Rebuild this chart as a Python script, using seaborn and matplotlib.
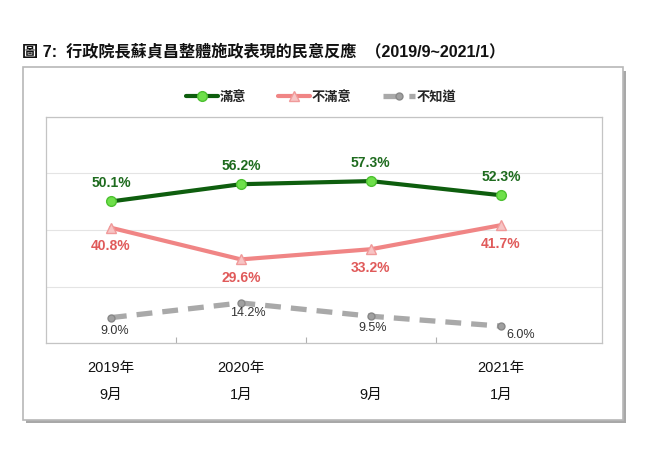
import pandas as pd
import seaborn as sns
import matplotlib.pyplot as plt
from matplotlib.patches import Rectangle

# 資料
periods = ['2019年\n9月', '2020年\n1月', '\n9月', '2021年\n1月']
satisfied = [50.1, 56.2, 57.3, 52.3]
dissatisfied = [40.8, 29.6, 33.2, 41.7]
unknown = [9.0, 14.2, 9.5, 6.0]
series_names = ['滿意', '不滿意', '不知道']

sns.set_theme(style='white')
plt.rcParams['font.family'] = ['Liberation Sans', 'Noto Sans CJK TC']
plt.rcParams['axes.unicode_minus'] = False

df = pd.DataFrame({
    'pos': list(range(len(periods))) * 3,
    'value': satisfied + dissatisfied + unknown,
    'series': [n for n in series_names for _ in periods],
})

fig = plt.figure(figsize=(6.56, 4.55), dpi=100)

# 外框 (含陰影)
fig.patches.append(Rectangle((0.040, 0.070), 0.915, 0.775, transform=fig.transFigure,
                             facecolor='#a8a8a8', edgecolor='none', zorder=0))
fig.patches.append(Rectangle((0.035, 0.077), 0.915, 0.775, transform=fig.transFigure,
                             facecolor='white', edgecolor='#b8b8b8', lw=1.2, zorder=1))

ax = fig.add_axes([0.070, 0.246, 0.848, 0.497])
ax.set_zorder(2)

styles = {
    '滿意': dict(color='#0e5e0e', lw=3.0, marker='o', ms=7, mfc='#6ee04a', mec='#4cc030', mew=1),
    '不滿意': dict(color='#f08585', lw=3.0, marker='^', ms=7, mfc='#f7c4c4', mec='#f09a9a', mew=1),
    '不知道': dict(color='#a9a9a9', lw=3.8, marker='o', ms=5, mfc='#a0a0a0', mec='#888888', mew=1,
                 dashes=(3.0, 1.9)),
}
for name in series_names:
    sub = df[df['series'] == name]
    st = dict(styles[name])
    dashes = st.pop('dashes', None)
    sns.lineplot(data=sub, x='pos', y='value', ax=ax, label=name, **st)
    if dashes:
        ax.lines[-1].set_dashes(dashes)

# 數值標籤
for i, v in enumerate(satisfied):
    ax.annotate(f'{v:.1f}%', (i, v), xytext=(0, 13), textcoords='offset points',
                ha='center', va='center', fontsize=10, fontweight='bold', color='#1e6b1e')
for i, v in enumerate(dissatisfied):
    ax.annotate(f'{v:.1f}%', (i, v), xytext=(0, -13.5), textcoords='offset points',
                ha='center', va='center', fontsize=10, fontweight='bold', color='#e05a5a')
gray_offsets = [(3, -9.5), (5, -7.5), (1, -8.5), (14, -6.5)]
for (i, v), (dx, dy) in zip(enumerate(unknown), gray_offsets):
    ax.annotate(f'{v:.1f}%', (i, v), xytext=(dx, dy), textcoords='offset points',
                ha='center', va='center', fontsize=9, color='#333333')

ax.set_xlim(-0.5, 3.78)
ax.set_ylim(0, 80)
ax.set_yticks([0, 20, 40, 60, 80])
ax.yaxis.grid(True, color='#e4e4e4', lw=0.8)
ax.tick_params(axis='y', left=False, labelleft=False)
ax.set_xticks(range(len(periods)))
ax.set_xticklabels(periods, fontsize=10.5, linespacing=2.2,
                   family=['Liberation Sans', 'Noto Sans CJK TC'], color='#111111')
ax.set_xticks([0.5, 1.5, 2.5], minor=True)
ax.tick_params(axis='x', which='major', length=0, pad=13)
ax.tick_params(axis='x', which='minor', bottom=True, direction='in', length=4,
               color='#b0b0b0', width=0.8)
ax.set_xlabel('')
ax.set_ylabel('')
for sp in ax.spines.values():
    sp.set_color('#c4c4c4')
    sp.set_linewidth(0.9)

ax.legend(loc='center', bbox_to_anchor=(0.49, 0.787), bbox_transform=fig.transFigure,
          ncol=3, frameon=False, handlelength=2.4, columnspacing=2.4,
          handletextpad=0.15, prop={'family': ['Noto Sans CJK TC'], 'size': 9.5, 'weight': 'bold'})

fig.text(0.033, 0.888, '圖 7:  行政院長蘇貞昌整體施政表現的民意反應  （2019/9~2021/1）',
         fontsize=11.6, fontweight='bold', ha='left', va='center',
         family=['Liberation Sans', 'Noto Sans CJK TC'], color='#111111')

fig.savefig('out.png', dpi=100)
